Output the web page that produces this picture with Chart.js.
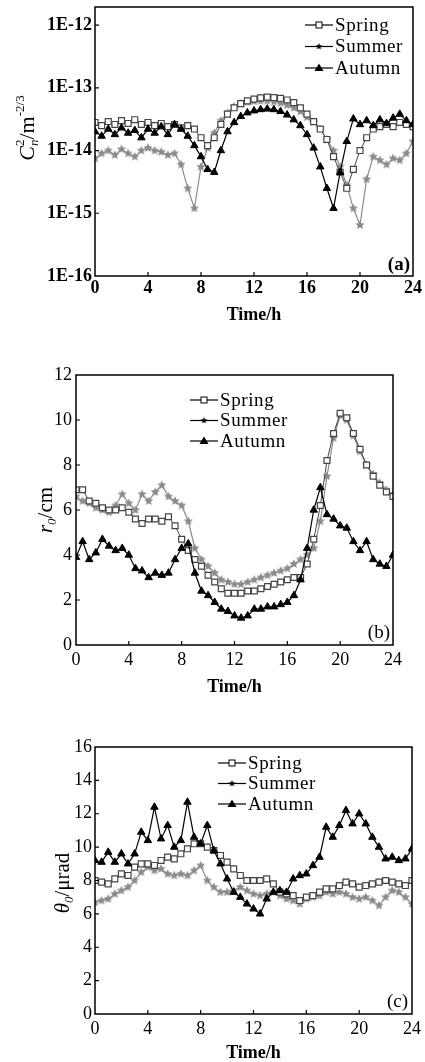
<!DOCTYPE html>
<html>
<head>
<meta charset="utf-8">
<script src="https://cdn.jsdelivr.net/npm/chart.js@4"></script>
<style>
  body { margin: 0; background: #fff; }
  canvas { position: absolute; left: 0; }
</style>
</head>
<body>
<canvas id="chartA" width="425" height="340" style="top:0px"></canvas>
<canvas id="chartB" width="425" height="360" style="top:340px"></canvas>
<canvas id="chartC" width="425" height="362" style="top:700px"></canvas>
<script>
const seasons = ['Spring', 'Summer', 'Autumn'];
const hours = [0, 0.5, 1, 1.5, 2, 2.5, 3, 3.5, 4, 4.5, 5, 5.5, 6, 6.5, 7, 7.5, 8, 8.5, 9, 9.5,
  10, 10.5, 11, 11.5, 12, 12.5, 13, 13.5, 14, 14.5, 15, 15.5, 16, 16.5, 17, 17.5, 18, 18.5, 19, 19.5,
  20, 20.5, 21, 21.5, 22, 22.5, 23, 23.5, 24];
const xTicks = [0, 4, 8, 12, 16, 20, 24];
const cn2Ticks = [1e-16, 1e-15, 1e-14, 1e-13, 1e-12];
const r0Ticks = [0, 2, 4, 6, 8, 10, 12];
const thetaTicks = [0, 2, 4, 6, 8, 10, 12, 14, 16];

// (a) Cn2, m^-2/3
const cn2Spring = [2.8e-14, 2.5e-14, 2.9e-14, 2.6e-14, 3.0e-14, 2.7e-14, 3.1e-14, 2.6e-14, 2.8e-14, 2.5e-14,
  2.7e-14, 2.4e-14, 2.6e-14, 2.3e-14, 2.5e-14, 2.2e-14, 1.6e-14, 1.2e-14, 1.6e-14, 2.6e-14,
  3.8e-14, 4.8e-14, 5.6e-14, 6.2e-14, 6.6e-14, 6.9e-14, 7.1e-14, 7.0e-14, 6.8e-14, 6.4e-14,
  5.8e-14, 4.8e-14, 3.8e-14, 2.9e-14, 2.2e-14, 1.5e-14, 8.0e-15, 4.5e-15, 2.5e-15, 5.0e-15,
  1.0e-14, 1.6e-14, 2.2e-14, 2.4e-14, 2.6e-14, 2.4e-14, 2.8e-14, 2.6e-14, 2.4e-14];
const cn2Summer = [7.5e-15, 9.0e-15, 1.0e-14, 8.5e-15, 1.05e-14, 9.0e-15, 8.0e-15, 1.0e-14, 1.1e-14, 1.0e-14,
  9.5e-15, 8.5e-15, 9.0e-15, 6.0e-15, 2.5e-15, 1.2e-15, 5.5e-15, 1.1e-14, 1.9e-14, 3.0e-14,
  4.0e-14, 5.0e-14, 5.6e-14, 5.9e-14, 6.1e-14, 6.2e-14, 6.2e-14, 6.0e-14, 5.7e-14, 5.3e-14,
  4.8e-14, 4.2e-14, 3.4e-14, 2.8e-14, 2.2e-14, 1.5e-14, 1.0e-14, 5.5e-15, 2.8e-15, 1.2e-15,
  6.5e-16, 3.5e-15, 8.0e-15, 7.0e-15, 6.0e-15, 7.5e-15, 7.0e-15, 9.0e-15, 1.4e-14];
const cn2Autumn = [2.0e-14, 1.7e-14, 2.2e-14, 1.8e-14, 2.3e-14, 1.9e-14, 2.1e-14, 1.6e-14, 2.2e-14, 1.9e-14,
  2.4e-14, 1.8e-14, 2.6e-14, 2.2e-14, 1.7e-14, 1.2e-14, 8.0e-15, 5.0e-15, 4.5e-15, 1.0e-14,
  2.0e-14, 2.8e-14, 3.5e-14, 4.0e-14, 4.3e-14, 4.5e-14, 4.6e-14, 4.5e-14, 4.2e-14, 3.7e-14,
  3.1e-14, 2.5e-14, 1.8e-14, 1.1e-14, 5.5e-15, 2.5e-15, 1.2e-15, 4.5e-15, 1.4e-14, 3.2e-14,
  2.6e-14, 3.0e-14, 2.5e-14, 3.1e-14, 2.7e-14, 3.3e-14, 3.8e-14, 3.0e-14, 2.6e-14];

// (b) r0, cm
const r0Spring = [6.9, 6.9, 6.4, 6.3, 6.1, 6.0, 6.0, 6.1, 5.9, 5.6, 5.4, 5.6, 5.6, 5.5, 5.7, 5.3, 4.7, 4.2, 3.8, 3.5,
  3.1, 2.8, 2.5, 2.3, 2.3, 2.3, 2.4, 2.4, 2.5, 2.6, 2.7, 2.8, 2.9, 3.0, 3.0, 3.6, 4.7, 6.2, 8.2, 9.4,
  10.3, 10.1, 9.4, 8.7, 8.0, 7.5, 7.1, 6.8, 6.6];
const r0Summer = [6.6, 6.4, 6.3, 6.1, 6.0, 5.9, 6.2, 6.7, 6.3, 6.0, 6.7, 6.4, 6.8, 7.1, 6.6, 6.4, 6.2, 5.5, 4.3, 3.8,
  3.5, 3.2, 2.9, 2.8, 2.7, 2.7, 2.8, 2.9, 3.0, 3.1, 3.2, 3.3, 3.4, 3.6, 3.8, 4.0, 4.3, 5.5, 7.5, 9.2,
  10.2, 10.0, 9.3, 8.6, 8.0, 7.6, 7.2, 6.9, 6.7];
const r0Autumn = [3.9, 4.6, 3.8, 4.1, 4.7, 4.4, 4.2, 4.3, 4.0, 3.4, 3.3, 3.0, 3.2, 3.1, 3.2, 3.8, 4.3, 4.5, 3.2, 2.4,
  2.2, 1.9, 1.6, 1.5, 1.3, 1.2, 1.3, 1.6, 1.6, 1.7, 1.7, 1.8, 1.9, 2.2, 2.9, 4.3, 6.0, 7.0, 5.8, 5.6,
  5.3, 5.2, 4.6, 4.2, 4.6, 3.8, 3.6, 3.5, 4.0];

// (c) theta0, urad
const thetaSpring = [8.0, 7.9, 7.8, 8.1, 8.4, 8.3, 8.8, 9.0, 9.0, 8.9, 9.2, 9.4, 9.3, 9.6, 9.9, 10.2, 10.2, 10.0, 9.8, 9.5,
  9.1, 8.7, 8.3, 8.0, 8.0, 8.0, 8.1, 7.8, 7.3, 7.2, 7.1, 6.8, 7.0, 7.1, 7.3, 7.5, 7.5, 7.7, 7.9, 7.8,
  7.6, 7.7, 7.8, 7.9, 8.0, 7.9, 7.8, 7.7, 8.0];
const thetaSummer = [6.7, 6.8, 6.9, 7.2, 7.4, 7.6, 8.0, 8.5, 8.8, 8.6, 8.7, 8.4, 8.3, 8.4, 8.3, 8.6, 8.9, 8.0, 7.6, 7.3,
  7.3, 7.4, 7.6, 7.4, 7.2, 7.1, 7.2, 7.3, 7.1, 6.9, 6.8, 6.6, 6.9, 7.0, 7.1, 7.3, 7.2, 7.3, 7.2, 7.0,
  6.9, 7.0, 6.8, 6.5, 7.0, 7.4, 7.3, 7.0, 6.6];
const thetaAutumn = [9.2, 9.1, 9.7, 9.1, 9.6, 9.0, 9.6, 10.9, 10.4, 12.4, 10.5, 11.3, 10.0, 10.4, 12.7, 10.6, 10.2, 11.3, 9.8, 9.0,
  8.1, 7.3, 7.0, 6.6, 6.3, 6.0, 6.9, 7.3, 7.4, 7.3, 8.1, 8.3, 8.4, 8.9, 9.4, 11.2, 10.6, 11.3, 12.2, 11.4,
  12.0, 11.4, 10.6, 10.0, 9.3, 9.4, 9.2, 9.3, 9.9];

const serif = 'Liberation Serif';

function starImage(r, fill) {
  const c = document.createElement('canvas');
  const s = Math.ceil(r * 2) + 2;
  c.width = c.height = s;
  const g = c.getContext('2d');
  g.beginPath();
  for (let i = 0; i < 10; i++) {
    const rad = i % 2 ? r * 0.47 : r;
    const a = -Math.PI / 2 + i * Math.PI / 5;
    g.lineTo(s / 2 + rad * Math.cos(a), s / 2 + rad * Math.sin(a));
  }
  g.closePath();
  g.fillStyle = fill;
  g.fill();
  return c;
}
const starGray = starImage(4.8, '#8a8a8a');
const starBlack = starImage(3.5, '#000');

function points(vals) {
  return hours.map((h, i) => ({ x: h, y: vals[i] }));
}

function datasets(spring, summer, autumn) {
  return [
    { label: 'Spring', data: points(spring), order: 2, borderColor: '#444', borderWidth: 1,
      pointStyle: 'rect', pointRadius: 4.2, pointBorderWidth: 1.2, pointBorderColor: '#444', pointBackgroundColor: '#fff' },
    { label: 'Summer', data: points(summer), order: 3, borderColor: '#8c8c8c', borderWidth: 1.2,
      pointStyle: starGray, pointRadius: 4.5 },
    { label: 'Autumn', data: points(autumn), order: 1, borderColor: '#000', borderWidth: 1.2,
      pointStyle: 'triangle', pointRadius: 4.3, pointBorderWidth: 1, pointBorderColor: '#000', pointBackgroundColor: '#000' }
  ];
}

function drawRich(ctx, parts, cx, cy) {
  let w = 0;
  parts.forEach(p => { ctx.font = p.font; p.w = ctx.measureText(p.t).width; if (!p.keep) w += p.w; });
  ctx.save();
  ctx.translate(cx, cy);
  ctx.rotate(-Math.PI / 2);
  ctx.fillStyle = '#000';
  ctx.textBaseline = 'alphabetic';
  let x = -w / 2;
  parts.forEach(p => {
    ctx.font = p.font;
    ctx.fillText(p.t, x, 7 + (p.dy || 0));
    if (!p.keep) x += p.w;
  });
  ctx.restore();
}

function drawLegend(ctx, lg) {
  ctx.save();
  seasons.forEach((name, i) => {
    const y = lg.y + i * lg.dy;
    const mx = lg.x + 14;
    ctx.strokeStyle = '#000';
    ctx.lineWidth = 1.2;
    ctx.beginPath();
    ctx.moveTo(lg.x, y);
    ctx.lineTo(lg.x + 28, y);
    ctx.stroke();
    if (i === 0) {
      ctx.fillStyle = '#fff';
      ctx.fillRect(mx - 3, y - 3, 6, 6);
      ctx.lineWidth = 1;
      ctx.strokeRect(mx - 3, y - 3, 6, 6);
    } else if (i === 1) {
      ctx.drawImage(starBlack, mx - starBlack.width / 2, y - starBlack.height / 2);
    } else {
      ctx.fillStyle = '#000';
      ctx.beginPath();
      ctx.moveTo(mx, y - 4.5);
      ctx.lineTo(mx + 4.5, y + 3);
      ctx.lineTo(mx - 4.5, y + 3);
      ctx.closePath();
      ctx.fill();
    }
    ctx.fillStyle = '#000';
    ctx.font = '19px "' + serif + '"';
    ctx.letterSpacing = '0.6px';
    ctx.textBaseline = 'middle';
    ctx.textAlign = 'left';
    ctx.fillText(name, lg.x + 30, y + 1);
  });
  ctx.restore();
}

function framePlugin(ex) {
  return {
    id: 'frame',
    afterDraw(chart) {
      const { ctx, chartArea: a, scales } = chart;
      ctx.save();
      ctx.strokeStyle = '#000';
      ctx.lineWidth = 1.5;
      ctx.strokeRect(a.left, a.top, a.right - a.left, a.bottom - a.top);
      ctx.lineWidth = 1.2;
      ctx.beginPath();
      ex.yTicks.forEach(v => {
        const py = scales.y.getPixelForValue(v);
        if (py > a.top + 2 && py < a.bottom - 2) { ctx.moveTo(a.left, py); ctx.lineTo(a.left + 4, py); }
      });
      xTicks.forEach(v => {
        const px = scales.x.getPixelForValue(v);
        if (px > a.left + 2 && px < a.right - 2) { ctx.moveTo(px, a.bottom); ctx.lineTo(px, a.bottom - 4); }
      });
      ctx.stroke();
      ctx.fillStyle = '#000';
      ctx.textAlign = 'center';
      ctx.textBaseline = 'middle';
      ctx.font = 'bold 18px "' + serif + '"';
      ctx.fillText('Time/h', (a.left + a.right) / 2, ex.xTitleY);
      ctx.textAlign = 'right';
      ctx.font = (ex.panelBold ? 'bold ' : '') + '19px "' + serif + '"';
      ctx.fillText(ex.panel, ex.panelX, ex.panelY);
      ctx.restore();
      drawRich(ctx, ex.yTitle, ex.yTitleX, ex.yTitleY);
      drawLegend(ctx, ex.legend);
    }
  };
}

function makeChart(id, sets, yScale, ex) {
  const tickFont = { family: serif, size: 18, weight: ex.boldTicks ? 'bold' : 'normal' };
  yScale.grid = { display: false, drawTicks: false };
  yScale.border = { display: false };
  yScale.ticks = Object.assign({ font: tickFont, color: '#000', padding: ex.yPad, autoSkip: false }, yScale.ticks || {});
  yScale.afterBuildTicks = s => { s.ticks = ex.yTicks.map(v => ({ value: v })); };
  yScale.afterFit = s => { s.width = ex.left; s.paddingTop = 0; s.paddingBottom = 0; };
  return new Chart(document.getElementById(id), {
    type: 'line',
    data: { datasets: sets },
    options: {
      responsive: false,
      animation: false,
      layout: { padding: { left: 0, top: ex.top, right: ex.right, bottom: 0 } },
      plugins: { legend: { display: false }, tooltip: { enabled: false } },
      scales: {
        x: {
          type: 'linear', min: 0, max: 24,
          grid: { display: false, drawTicks: false },
          border: { display: false },
          ticks: { font: tickFont, color: '#000', padding: ex.xPad, maxRotation: 0, autoSkip: false },
          afterBuildTicks: s => { s.ticks = xTicks.map(v => ({ value: v })); },
          afterFit: s => { s.height = ex.xHeight; s.paddingLeft = 0; s.paddingRight = 0; }
        },
        y: yScale
      }
    },
    plugins: [framePlugin(ex)]
  });
}

const big = '21px "' + serif + '"';
const bigIt = 'italic 21px "' + serif + '"';
const small = '13px "' + serif + '"';
const smallIt = 'italic 13px "' + serif + '"';

makeChart('chartA', datasets(cn2Spring, cn2Summer, cn2Autumn),
  { type: 'logarithmic', min: 1e-16, max: 1.94e-12,
    ticks: { callback: v => Number(v).toExponential(0).toUpperCase() } },
  { yTicks: cn2Ticks, boldTicks: true, left: 95, top: 7, right: 12, xHeight: 64, xPad: 2, yPad: 3,
    xTitleY: 315, panel: '(a)', panelBold: true, panelX: 410, panelY: 265,
    yTitle: [{ t: 'C', font: 'italic 22px "' + serif + '"' }, { t: '2', font: small, dy: -10, keep: true },
      { t: 'n', font: smallIt, dy: 4 }, { t: '/m', font: '22px "' + serif + '"' }, { t: '-2/3', font: small, dy: -10 }],
    yTitleX: 27, yTitleY: 128,
    legend: { x: 305, y: 25, dy: 21.5 } });

makeChart('chartB', datasets(r0Spring, r0Summer, r0Autumn),
  { type: 'linear', min: 0, max: 12 },
  { yTicks: r0Ticks, boldTicks: false, left: 76, top: 35, right: 32, xHeight: 55, xPad: 4, yPad: 4,
    xTitleY: 347, panel: '(b)', panelBold: false, panelX: 390, panelY: 293,
    yTitle: [{ t: 'r', font: bigIt }, { t: '0', font: smallIt, dy: 4 }, { t: '/cm', font: big }],
    yTitleX: 45, yTitleY: 170,
    legend: { x: 190, y: 60, dy: 20.5 } });

makeChart('chartC', datasets(thetaSpring, thetaSummer, thetaAutumn),
  { type: 'linear', min: 0, max: 16 },
  { yTicks: thetaTicks, boldTicks: false, left: 95, top: 47, right: 13, xHeight: 48, xPad: 4, yPad: 3,
    xTitleY: 353, panel: '(c)', panelBold: false, panelX: 408, panelY: 302,
    yTitle: [{ t: 'θ', font: bigIt }, { t: '0', font: smallIt, dy: 4 }, { t: '/μrad', font: big }],
    yTitleX: 62, yTitleY: 183,
    legend: { x: 218, y: 63, dy: 20.5 } });
</script>
</body>
</html>
